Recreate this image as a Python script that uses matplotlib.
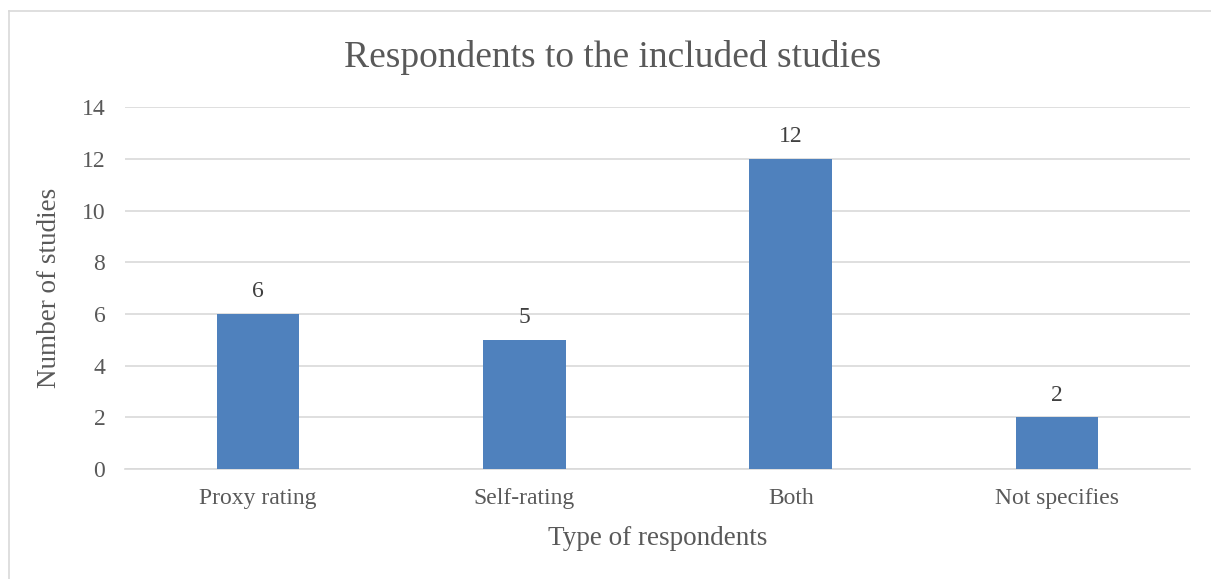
import matplotlib
matplotlib.use("Agg")
import matplotlib.pyplot as plt
from matplotlib.lines import Line2D

categories = ["Proxy rating", "Self-rating", "Both", "Not specifies"]
counts = [6, 5, 12, 2]
yticks = [0, 2, 4, 6, 8, 10, 12, 14]

plt.rcParams["font.family"] = ["Liberation Serif", "DejaVu Serif"]

fig = plt.figure(figsize=(12.11, 5.79), dpi=100)
ax = fig.add_axes([0.103, 0.190, 0.880, 0.625])

x = range(len(categories))
bars = ax.bar(x, counts, width=0.31, color="#4F81BD", zorder=3)

for bar, val in zip(bars, counts):
    ax.text(bar.get_x() + bar.get_width() / 2, val + 0.45, str(val),
            ha="center", va="bottom", fontsize=17, color="#404040")

ax.set_xlim(-0.5, len(categories) - 0.5)
ax.set_ylim(0, 14)
ax.set_yticks(yticks)
ax.set_xticks(list(x))
ax.set_xticklabels(categories)
ax.tick_params(axis="x", length=0, labelsize=17, colors="#595959", pad=14)
ax.tick_params(axis="y", length=0, labelsize=17, colors="#595959", pad=14)
ax.grid(axis="y", color="#D9D9D9", linewidth=1.2, zorder=0)
for s in ["top", "right", "left"]:
    ax.spines[s].set_visible(False)
ax.spines["bottom"].set_color("#D9D9D9")
ax.spines["bottom"].set_linewidth(1.2)

ax.set_xlabel("Type of respondents", fontsize=19.5, color="#595959", labelpad=12)
ax.set_ylabel("Number of studies", fontsize=19.5, color="#595959", labelpad=14)
fig.text(0.506, 0.900, "Respondents to the included studies", ha="center",
         va="center", fontsize=27, color="#595959")

# chart frame (only top and left edges are visible in the crop)
fig.lines.append(Line2D([0.0075, 1.0], [0.981, 0.981], transform=fig.transFigure,
                        color="#D9D9D9", linewidth=1.2))
fig.lines.append(Line2D([0.0075, 0.0075], [0.0, 0.981], transform=fig.transFigure,
                        color="#D9D9D9", linewidth=1.2))

fig.savefig("out.png", dpi=100)
